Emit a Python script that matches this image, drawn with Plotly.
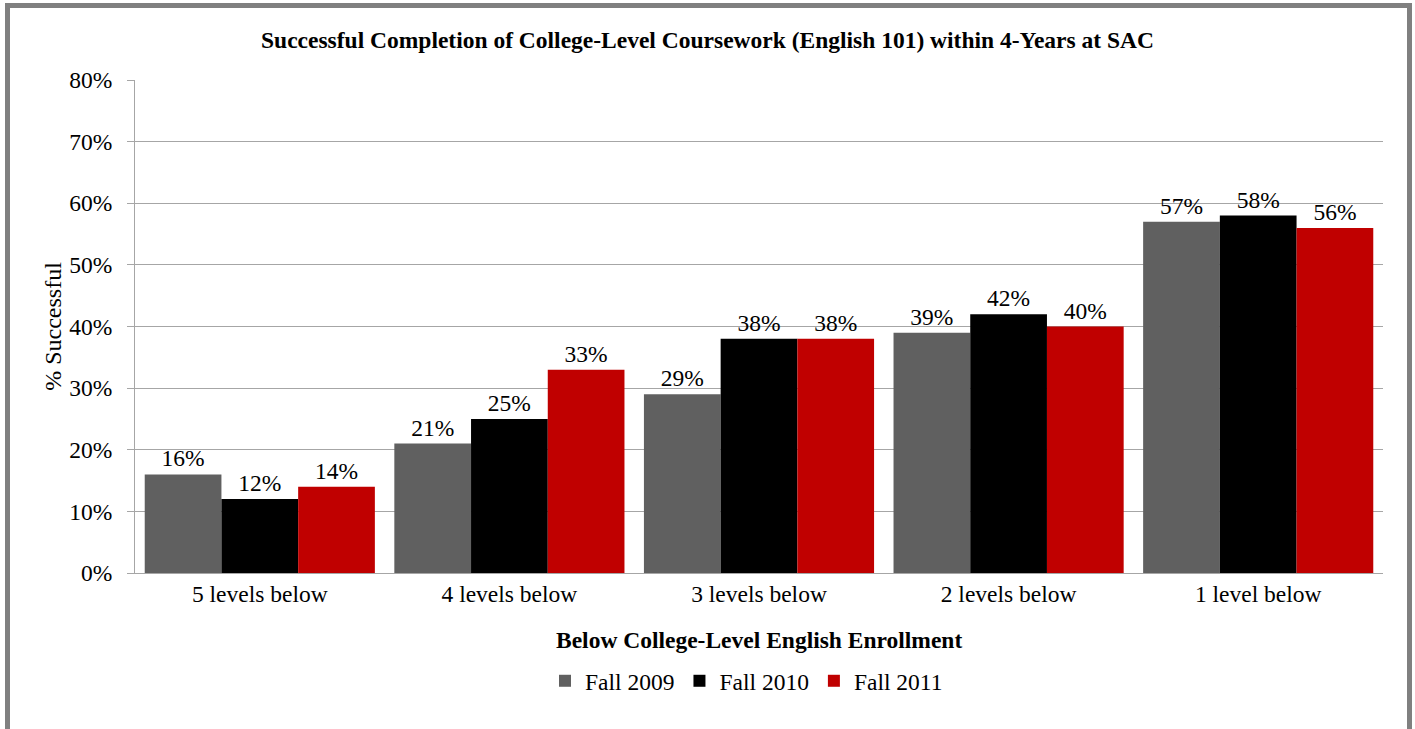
import plotly.graph_objects as go

categories = ["5 levels below", "4 levels below", "3 levels below", "2 levels below", "1 level below"]
series_names = ["Fall 2009", "Fall 2010", "Fall 2011"]
fall_2009 = [16, 21, 29, 39, 57]
fall_2010 = [12, 25, 38, 42, 58]
fall_2011 = [14, 33, 38, 40, 56]
colors = ["#606060", "#000000", "#c00000"]

W, H = 1415, 729
L, R, T, B = 135, 32, 80, 156
ph = H - T - B
FS = 23.5

fig = go.Figure()
for name, vals, col in zip(series_names, [fall_2009, fall_2010, fall_2011], colors):
    fig.add_trace(go.Bar(
        x=categories, y=vals, name=name,
        marker=dict(color=col, line=dict(width=0)),
        texttemplate="%{y}", textposition="outside",
        textfont=dict(family="Liberation Serif", size=FS, color="#000000"),
        cliponaxis=False,
    ))

fig.update_layout(
    width=W, height=H,
    margin=dict(l=L, r=R, t=T, b=B),
    barmode="group", bargap=0.078, bargroupgap=0,
    paper_bgcolor="white", plot_bgcolor="white",
    font=dict(family="Liberation Serif", size=FS, color="#000000"),
    title=dict(text="<b>Successful Completion of College-Level Coursework (English 101) within 4-Years at SAC</b>",
               x=0.5, xanchor="center", y=1 - 40 / H, yanchor="middle",
               font=dict(family="Liberation Serif", size=FS, color="#000000")),
    showlegend=True,
    legend=dict(orientation="h", x=0.49, xanchor="center", y=(T + ph - 681) / ph, yanchor="middle",
                font=dict(family="Liberation Serif", size=FS), itemwidth=30, traceorder="normal"),
    yaxis=dict(range=[0, 80], dtick=10, ticksuffix="%", showgrid=True, gridcolor="#a6a6a6", gridwidth=1,
               showline=True, linecolor="#a6a6a6", linewidth=1, ticks="outside", ticklen=7, tickcolor="#a6a6a6",
               ticklabelstandoff=10, zeroline=False,
               title=dict(text="% Successful", standoff=0, font=dict(family="Liberation Serif", size=24))),
    xaxis=dict(showline=True, linecolor="#a6a6a6", linewidth=1, ticks="", showgrid=False,
               tickfont=dict(family="Liberation Serif", size=FS)),
    annotations=[dict(text="<b>Below College-Level English Enrollment</b>", xref="paper", yref="paper",
                      x=0.5, y=(T + ph - 640) / ph, xanchor="center", yanchor="middle", showarrow=False,
                      font=dict(family="Liberation Serif", size=FS))],
    shapes=[dict(type="rect", xref="paper", yref="paper",
                 x0=(7.5 - L) / (W - L - R), x1=(1409.5 - L) / (W - L - R),
                 y0=(T + ph - 745) / ph, y1=(T + ph - 5.5) / ph,
                 line=dict(color="#808080", width=5), fillcolor="rgba(0,0,0,0)", layer="below")],
)

fig.write_html("out.html", config={"displayModeBar": False},
               post_script="document.body.style.margin='0px';document.body.style.overflow='hidden';")
